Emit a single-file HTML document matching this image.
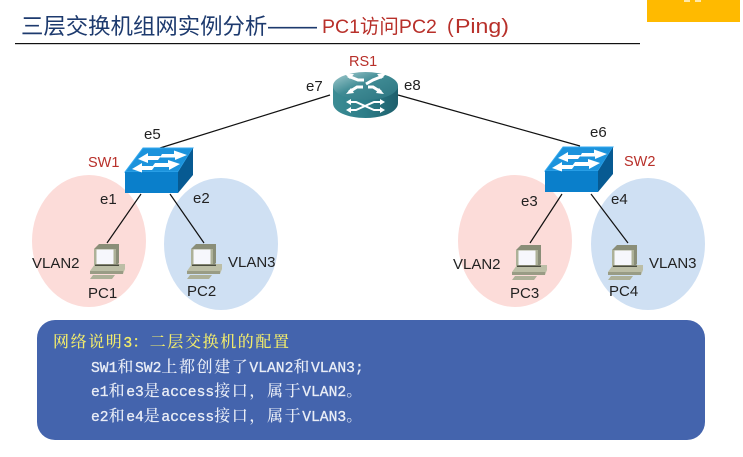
<!DOCTYPE html>
<html><head><meta charset="utf-8">
<style>
html,body{margin:0;padding:0;background:#fff;width:743px;height:457px;overflow:hidden}
svg{display:block;filter:blur(.35px)}
.lb{font-family:"Liberation Sans",sans-serif;font-size:15px;fill:#222}
.rd{font-family:"Liberation Sans",sans-serif;font-size:14.5px;fill:#b8302a}
.c{font-family:"Noto Serif CJK SC","Liberation Serif",serif;font-size:16px;letter-spacing:1.6px;font-weight:500}
.m{font-family:"Liberation Mono",monospace;font-size:14.67px;letter-spacing:0;stroke:currentColor;stroke-width:.3px}
</style></head><body>
<svg width="743" height="457" viewBox="0 0 743 457" xmlns="http://www.w3.org/2000/svg">
<defs>
<linearGradient id="rt" x1="0" y1="0" x2="1" y2="1"><stop offset="0" stop-color="#a9cfd2"/><stop offset=".45" stop-color="#3f8b94"/><stop offset="1" stop-color="#2c7480"/></linearGradient>
<linearGradient id="rb" x1="0" y1="0" x2="1" y2="0"><stop offset="0" stop-color="#3c8c94"/><stop offset=".5" stop-color="#2c7d88"/><stop offset="1" stop-color="#1e5f6c"/></linearGradient>
<g id="pc">
<path d="M4 6 L9 1 H29 V20 L26 23 H4 Z" fill="#8a8e78"/>
<rect x="4" y="6" width="22" height="17" fill="#adb198"/>
<rect x="6.500" y="6.500" width="17" height="14.500" fill="#f6f7fc"/>
<path d="M0 28 L5 21 H35 V26 L33 31 H0 Z" fill="#bcbea6"/>
<rect x="0" y="28" width="33" height="3" fill="#999c85"/>
<rect x="5" y="21.500" width="24" height="1.500" fill="#4a4c3f"/>
<path d="M3 32 H25 L22 36 H0 Z" fill="#adb098"/>
</g>
<g id="sw">
<path d="M0 24 L18 0 H68 L53 24 Z" fill="#1c93dc" stroke="#35aaf0" stroke-width="1"/>
<rect x="0" y="24" width="53" height="21" fill="#0a7fcb"/>
<path d="M53 24 L68 0 V27 L53 45 Z" fill="#075a92"/>
<g fill="#fff">
<path d="M13 11 L23 5 V8 H36 L33 12 H23 V15 Z"/>
<path d="M37 6 H49 V2.500 L62 7 L50 12 V9.500 H35 Z"/>
<path d="M7 21 L17 15 V18 H30 L27 22 H17 V24.500 Z"/>
<path d="M30 15 H43 V12 L55 16 L44 22 V19 H27 Z"/>
</g>
</g>
</defs>

<rect x="647" y="0" width="93" height="22" fill="#ffba00"/>
<rect x="684" y="0" width="6" height="2" fill="#ffe9a8"/>
<rect x="695" y="0" width="6" height="2" fill="#ffe9a8"/>

<text x="21" y="34" font-family="'Noto Sans CJK SC',sans-serif" font-size="22.4" fill="#1d3a6e">三层交换机组网实例分析</text>
<text x="268" y="34" font-family="'Liberation Sans',sans-serif" font-size="24.500" fill="#1d3a6e">——</text>
<text x="322" y="33" font-family="'Liberation Sans','Noto Sans CJK SC',sans-serif" font-size="19.500" fill="#b8302a">PC1访问PC2</text>
<text x="447" y="33" font-family="'Liberation Sans',sans-serif" font-size="20" fill="#b8302a">(</text>
<text x="455" y="33" font-family="'Liberation Sans',sans-serif" font-size="20" fill="#b8302a" textLength="54" lengthAdjust="spacingAndGlyphs">Ping)</text>
<rect x="15" y="43" width="625" height="1.200" fill="#111"/>

<ellipse cx="89" cy="241" rx="57" ry="66" fill="#fcdcd9"/>
<ellipse cx="221" cy="244" rx="57" ry="66" fill="#cfe0f3"/>
<ellipse cx="515" cy="241" rx="57" ry="66" fill="#fcdcd9"/>
<ellipse cx="648" cy="244" rx="57" ry="66" fill="#cfe0f3"/>

<g stroke="#111" stroke-width="1.200" fill="none">
<line x1="330" y1="95" x2="160" y2="148"/>
<line x1="398" y1="95" x2="580" y2="146"/>
<line x1="141" y1="194" x2="107" y2="243"/>
<line x1="170" y1="194" x2="204" y2="243"/>
<line x1="562" y1="194" x2="530" y2="243"/>
<line x1="591" y1="194" x2="628" y2="243"/>
</g>

<path d="M333 86 V103 C333 112 348 118 365.500 118 C383 118 398 112 398 103 V86 Z" fill="url(#rb)"/>
<ellipse cx="365.500" cy="86" rx="32.500" ry="14" fill="url(#rt)"/>
<g stroke="#fff" stroke-width="3" fill="none">
<path d="M348 76 L358 80 H364"/><path d="M383 76 L373 80 L366 84"/>
<path d="M349 92 L357 87 H363"/><path d="M381 92 L373 87 H368"/>
<path d="M350 102 H356 L374 110 H381" stroke-width="2"/><path d="M350 110 H356 L374 102 H381" stroke-width="2"/>
</g>
<g fill="#fff">
<path d="M345 74 L354 74 L350 79 Z"/><path d="M386 74 L377 74 L381 79 Z"/>
<path d="M346 94 L351 88 L354 93 Z"/><path d="M384 94 L379 88 L376 93 Z"/>
<path d="M380 99 L380 105 L385 102 Z"/><path d="M380 107 L380 113 L385 110 Z"/>
<path d="M351 99 L351 105 L346 102 Z"/><path d="M351 107 L351 113 L346 110 Z"/>
</g>

<use href="#sw" x="125" y="148"/>
<use href="#sw" x="545" y="147"/>
<use href="#pc" x="90" y="243"/>
<use href="#pc" x="187" y="243"/>
<use href="#pc" x="512" y="244"/>
<use href="#pc" x="608" y="244"/>

<text class="rd" x="349" y="66">RS1</text>
<text class="rd" x="88" y="167">SW1</text>
<text class="rd" x="624" y="166">SW2</text>
<text class="lb" x="306" y="91">e7</text>
<text class="lb" x="404" y="90">e8</text>
<text class="lb" x="144" y="139">e5</text>
<text class="lb" x="590" y="137">e6</text>
<text class="lb" x="100" y="204">e1</text>
<text class="lb" x="193" y="203">e2</text>
<text class="lb" x="521" y="206">e3</text>
<text class="lb" x="611" y="204">e4</text>
<text class="lb" x="32" y="268">VLAN2</text>
<text class="lb" x="228" y="267">VLAN3</text>
<text class="lb" x="453" y="269">VLAN2</text>
<text class="lb" x="649" y="268">VLAN3</text>
<text class="lb" x="88" y="298">PC1</text>
<text class="lb" x="187" y="296">PC2</text>
<text class="lb" x="510" y="298">PC3</text>
<text class="lb" x="609" y="296">PC4</text>

<rect x="37" y="320" width="668" height="120" rx="18" fill="#4464ad"/>
<text x="53" y="347" fill="#f2ec6b" color="#f2ec6b"><tspan class="c">网络说明</tspan><tspan class="m">3</tspan><tspan class="c">：二层交换机的配置</tspan></text>
<text x="91" y="372" fill="#e9edf6" color="#e9edf6"><tspan class="m">SW1</tspan><tspan class="c">和</tspan><tspan class="m">SW2</tspan><tspan class="c">上都创建了</tspan><tspan class="m">VLAN2</tspan><tspan class="c">和</tspan><tspan class="m">VLAN3;</tspan></text>
<text x="91" y="396" fill="#e9edf6" color="#e9edf6"><tspan class="m">e1</tspan><tspan class="c">和</tspan><tspan class="m">e3</tspan><tspan class="c">是</tspan><tspan class="m">access</tspan><tspan class="c">接口，属于</tspan><tspan class="m">VLAN2</tspan><tspan class="c">。</tspan></text>
<text x="91" y="421" fill="#e9edf6" color="#e9edf6"><tspan class="m">e2</tspan><tspan class="c">和</tspan><tspan class="m">e4</tspan><tspan class="c">是</tspan><tspan class="m">access</tspan><tspan class="c">接口，属于</tspan><tspan class="m">VLAN3</tspan><tspan class="c">。</tspan></text>
</svg>
</body></html>
